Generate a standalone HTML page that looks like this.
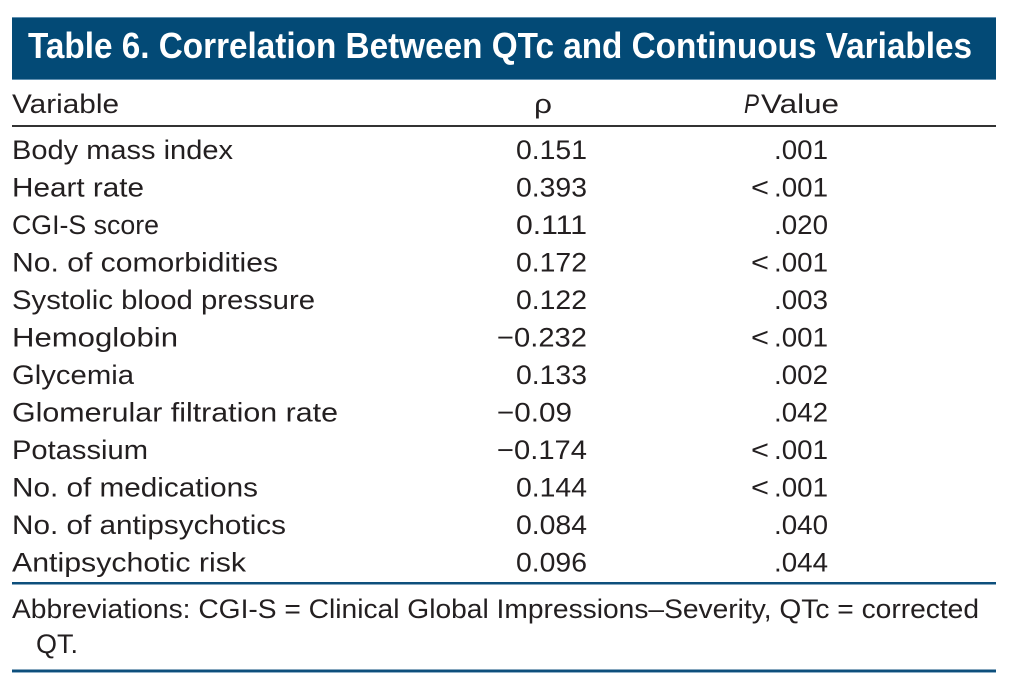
<!DOCTYPE html>
<html>
<head>
<meta charset="utf-8">
<style>
  html,body{margin:0;padding:0;background:#fff;}
  body{width:1014px;height:692px;overflow:hidden;}
  svg{display:block;}
  text{font-family:"Liberation Sans", sans-serif; fill:#231f20;}
  .t{font-size:36px;font-weight:bold;fill:#fff;}
  .b{font-size:26.5px;}
  .f{font-size:27px;}
</style>
</head>
<body>
<svg width="1014" height="692" viewBox="0 0 1014 692" xmlns="http://www.w3.org/2000/svg">
  <rect x="0" y="0" width="1014" height="692" fill="#fff"/>
  <!-- Title bar -->
  <rect x="12" y="17" width="984" height="63" fill="#034a76"/>
  <rect x="12" y="17" width="984" height="1" fill="#5f8fb0"/>
  <rect x="12" y="79" width="984" height="1" fill="#5f8fb0"/>
  <text class="t" x="28" y="58" textLength="944" lengthAdjust="spacingAndGlyphs">Table 6. Correlation Between QTc and Continuous Variables</text>

  <!-- Header -->
  <text class="b" x="12" y="113" textLength="107" lengthAdjust="spacingAndGlyphs">Variable</text>
  <text class="b" x="534" y="113" textLength="18" lengthAdjust="spacingAndGlyphs">ρ</text>
  <text class="b" x="744" y="113" font-style="italic" textLength="15" lengthAdjust="spacingAndGlyphs">P</text>
  <text class="b" x="761" y="113" textLength="78" lengthAdjust="spacingAndGlyphs">Value</text>
  <rect x="12" y="125" width="984" height="2" fill="#333"/>

  <!-- Rows: names -->
  <text class="b" x="12" y="159" textLength="221" lengthAdjust="spacingAndGlyphs">Body mass index</text>
  <text class="b" x="12" y="196.5" textLength="132" lengthAdjust="spacingAndGlyphs">Heart rate</text>
  <text class="b" x="12" y="234" textLength="147" lengthAdjust="spacingAndGlyphs">CGI-S score</text>
  <text class="b" x="12" y="271.5" textLength="266" lengthAdjust="spacingAndGlyphs">No. of comorbidities</text>
  <text class="b" x="12" y="309" textLength="303" lengthAdjust="spacingAndGlyphs">Systolic blood pressure</text>
  <text class="b" x="12" y="346.5" textLength="166" lengthAdjust="spacingAndGlyphs">Hemoglobin</text>
  <text class="b" x="12" y="384" textLength="122" lengthAdjust="spacingAndGlyphs">Glycemia</text>
  <text class="b" x="12" y="421.5" textLength="326" lengthAdjust="spacingAndGlyphs">Glomerular filtration rate</text>
  <text class="b" x="12" y="459" textLength="136" lengthAdjust="spacingAndGlyphs">Potassium</text>
  <text class="b" x="12" y="496.5" textLength="246" lengthAdjust="spacingAndGlyphs">No. of medications</text>
  <text class="b" x="12" y="534" textLength="274" lengthAdjust="spacingAndGlyphs">No. of antipsychotics</text>
  <text class="b" x="12" y="571.5" textLength="234" lengthAdjust="spacingAndGlyphs">Antipsychotic risk</text>

  <!-- rho values -->
  <text class="b" x="516" y="159" textLength="71" lengthAdjust="spacingAndGlyphs">0.151</text>
  <text class="b" x="516" y="196.5" textLength="71" lengthAdjust="spacingAndGlyphs">0.393</text>
  <text class="b" x="516" y="234" textLength="71" lengthAdjust="spacingAndGlyphs">0.111</text>
  <text class="b" x="516" y="271.5" textLength="71" lengthAdjust="spacingAndGlyphs">0.172</text>
  <text class="b" x="516" y="309" textLength="71" lengthAdjust="spacingAndGlyphs">0.122</text>
  <text class="b" x="497" y="346.5" textLength="90" lengthAdjust="spacingAndGlyphs">−0.232</text>
  <text class="b" x="516" y="384" textLength="71" lengthAdjust="spacingAndGlyphs">0.133</text>
  <text class="b" x="497" y="421.5" textLength="75" lengthAdjust="spacingAndGlyphs">−0.09</text>
  <text class="b" x="497" y="459" textLength="90" lengthAdjust="spacingAndGlyphs">−0.174</text>
  <text class="b" x="516" y="496.5" textLength="71" lengthAdjust="spacingAndGlyphs">0.144</text>
  <text class="b" x="516" y="534" textLength="71" lengthAdjust="spacingAndGlyphs">0.084</text>
  <text class="b" x="516" y="571.5" textLength="71" lengthAdjust="spacingAndGlyphs">0.096</text>

  <!-- P values -->
  <text class="b" x="774" y="159" textLength="54" lengthAdjust="spacingAndGlyphs">.001</text>
  <text class="b" x="751" y="196.5" textLength="18" lengthAdjust="spacingAndGlyphs">&lt;</text>
  <text class="b" x="774" y="196.5" textLength="54" lengthAdjust="spacingAndGlyphs">.001</text>
  <text class="b" x="774" y="234" textLength="54" lengthAdjust="spacingAndGlyphs">.020</text>
  <text class="b" x="751" y="271.5" textLength="18" lengthAdjust="spacingAndGlyphs">&lt;</text>
  <text class="b" x="774" y="271.5" textLength="54" lengthAdjust="spacingAndGlyphs">.001</text>
  <text class="b" x="774" y="309" textLength="54" lengthAdjust="spacingAndGlyphs">.003</text>
  <text class="b" x="751" y="346.5" textLength="18" lengthAdjust="spacingAndGlyphs">&lt;</text>
  <text class="b" x="774" y="346.5" textLength="54" lengthAdjust="spacingAndGlyphs">.001</text>
  <text class="b" x="774" y="384" textLength="54" lengthAdjust="spacingAndGlyphs">.002</text>
  <text class="b" x="774" y="421.5" textLength="54" lengthAdjust="spacingAndGlyphs">.042</text>
  <text class="b" x="751" y="459" textLength="18" lengthAdjust="spacingAndGlyphs">&lt;</text>
  <text class="b" x="774" y="459" textLength="54" lengthAdjust="spacingAndGlyphs">.001</text>
  <text class="b" x="751" y="496.5" textLength="18" lengthAdjust="spacingAndGlyphs">&lt;</text>
  <text class="b" x="774" y="496.5" textLength="54" lengthAdjust="spacingAndGlyphs">.001</text>
  <text class="b" x="774" y="534" textLength="54" lengthAdjust="spacingAndGlyphs">.040</text>
  <text class="b" x="774" y="571.5" textLength="54" lengthAdjust="spacingAndGlyphs">.044</text>

  <!-- Bottom rule -->
  <rect x="12" y="582" width="984" height="2.5" fill="#0d4f7c"/>

  <!-- Footnote -->
  <text class="f" x="12" y="618" textLength="967" lengthAdjust="spacingAndGlyphs">Abbreviations: CGI-S = Clinical Global Impressions–Severity, QTc = corrected</text>
  <text class="f" x="36" y="653" textLength="42" lengthAdjust="spacingAndGlyphs">QT.</text>

  <!-- Final rule -->
  <rect x="12" y="669.5" width="984" height="2.5" fill="#0d4f7c"/>
  <rect x="12" y="672" width="984" height="1" fill="#8fb0c8"/>
</svg>
</body>
</html>
